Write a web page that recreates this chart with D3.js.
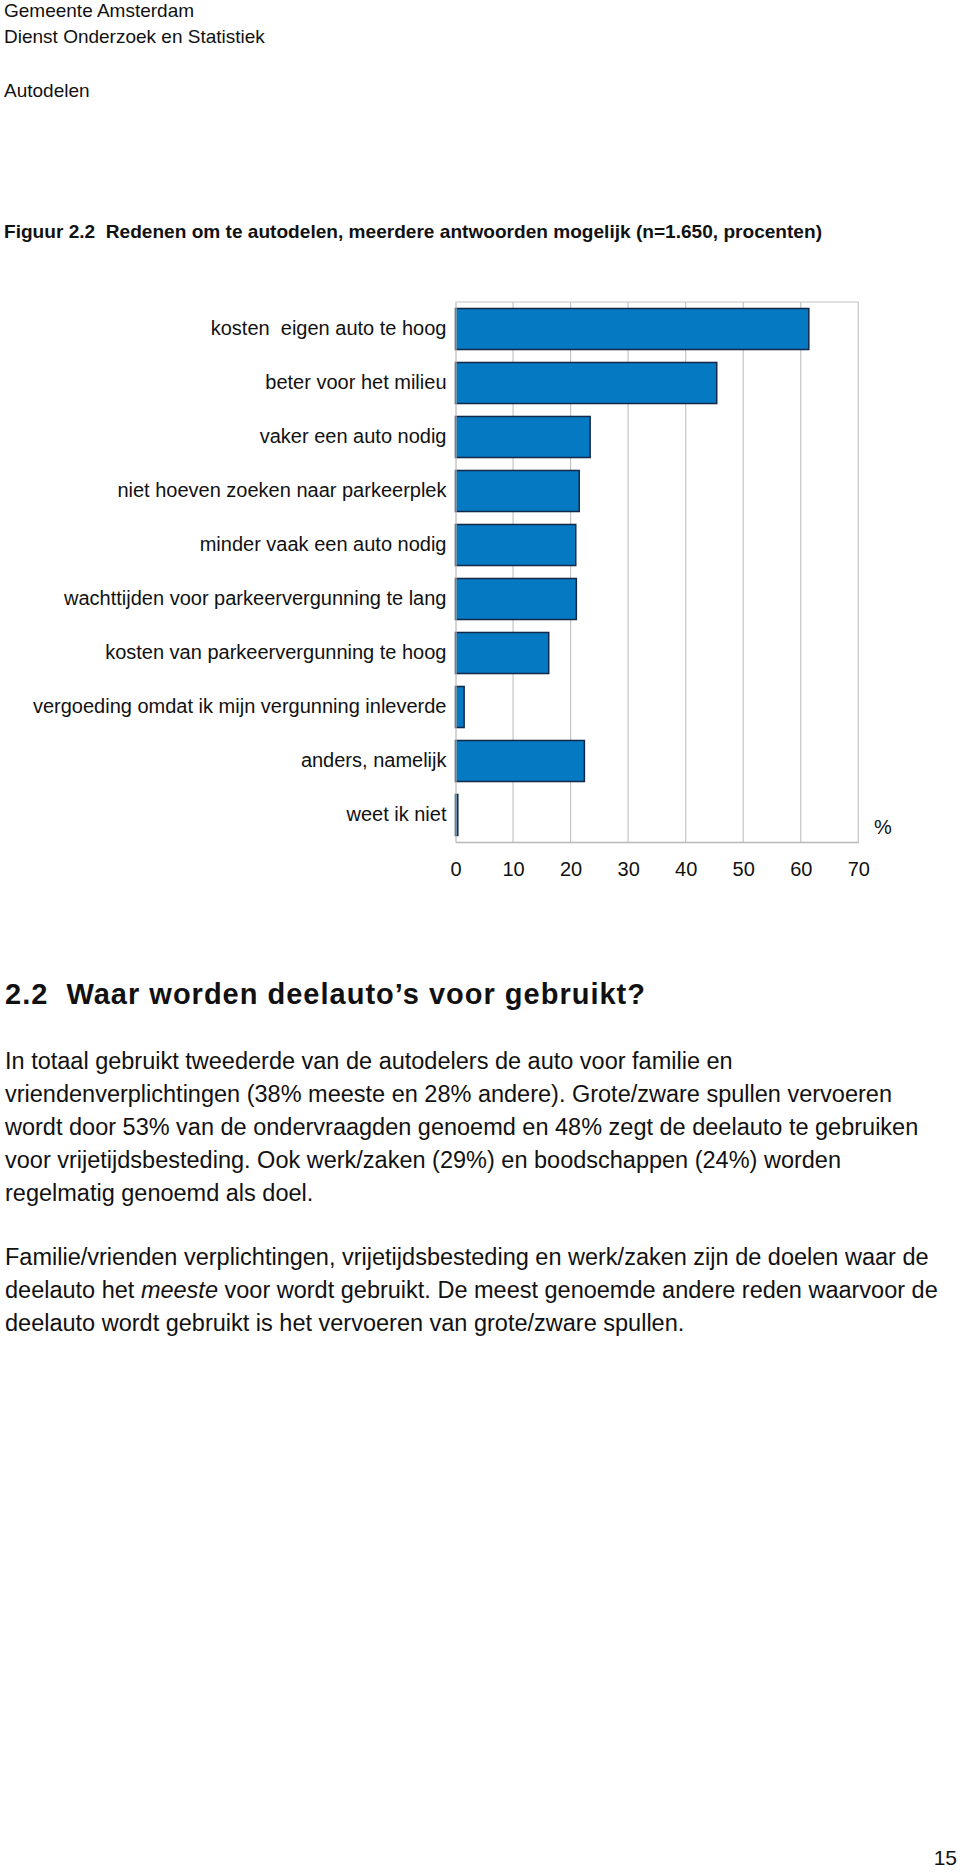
<!DOCTYPE html>
<html>
<head>
<meta charset="utf-8">
<script src="https://cdn.jsdelivr.net/npm/d3@7"></script>
<style>
  html, body { margin: 0; padding: 0; background: #fff; }
  svg { display: block; font-family: "Liberation Sans", Arial, Helvetica, sans-serif; }
  svg text { white-space: pre; }
</style>
</head>
<body>
<svg id="page" width="960" height="1874"></svg>
<script>
// ---------- data ----------
const categories = [
  "kosten  eigen auto te hoog",
  "beter voor het milieu",
  "vaker een auto nodig",
  "niet hoeven zoeken naar parkeerplek",
  "minder vaak een auto nodig",
  "wachttijden voor parkeervergunning te lang",
  "kosten van parkeervergunning te hoog",
  "vergoeding omdat ik mijn vergunning inleverde",
  "anders, namelijk",
  "weet ik niet"
];
const values = [61.4, 45.4, 23.4, 21.5, 20.9, 21.0, 16.2, 1.5, 22.4, 0.4];
const tickValues = [0, 10, 20, 30, 40, 50, 60, 70];
const unitLabel = "%";

const headerLines = ["Gemeente Amsterdam", "Dienst Onderzoek en Statistiek"];
const sectionLabel = "Autodelen";
const figureTitle = "Figuur 2.2  Redenen om te autodelen, meerdere antwoorden mogelijk (n=1.650, procenten)";
const heading = "2.2  Waar worden deelauto\u2019s voor gebruikt?";
const paragraph1 = [
  [["In totaal gebruikt tweederde van de autodelers de auto voor familie en", false]],
  [["vriendenverplichtingen (38% meeste en 28% andere). Grote/zware spullen vervoeren", false]],
  [["wordt door 53% van de ondervraagden genoemd en 48% zegt de deelauto te gebruiken", false]],
  [["voor vrijetijdsbesteding. Ook werk/zaken (29%) en boodschappen (24%) worden", false]],
  [["regelmatig genoemd als doel.", false]]
];
const paragraph2 = [
  [["Familie/vrienden verplichtingen, vrijetijdsbesteding en werk/zaken zijn de doelen waar de", false]],
  [["deelauto het ", false], ["meeste", true], [" voor wordt gebruikt. De meest genoemde andere reden waarvoor de", false]],
  [["deelauto wordt gebruikt is het vervoeren van grote/zware spullen.", false]]
];
const pageNumber = "15";

// ---------- drawing ----------
const svg = d3.select("#page");

// header
svg.selectAll("text.hdr").data(headerLines).join("text")
  .attr("class", "hdr")
  .attr("x", 4).attr("y", (d, i) => 9.8 + i * 26.6).attr("dy", "0.36em")
  .attr("font-size", 19).attr("fill", "#111").text(d => d);
svg.append("text").attr("x", 4).attr("y", 90).attr("dy", "0.36em")
  .attr("font-size", 19).attr("fill", "#111").text(sectionLabel);

// figure title
svg.append("text").attr("x", 4).attr("y", 231).attr("dy", "0.36em")
  .attr("font-size", 19).attr("font-weight", "bold").attr("fill", "#111")
  .attr("textLength", 818).attr("lengthAdjust", "spacingAndGlyphs")
  .text(figureTitle);

// chart
const plot = { left: 455.5, right: 858.3, top: 302, bottom: 842 };
const x = d3.scaleLinear().domain([0, 70]).range([plot.left, plot.right]);
const y = d3.scaleBand().domain(categories).range([plot.top, plot.bottom])
  .paddingInner(0.24).paddingOuter(0.12);

const g = svg.append("g");

// gridlines
g.append("g").selectAll("line").data(tickValues.slice(1)).join("line")
  .attr("x1", d => x(d)).attr("x2", d => x(d))
  .attr("y1", plot.top).attr("y2", plot.bottom)
  .attr("stroke", "#c4c4c4").attr("stroke-width", 1.2);
// top border
g.append("line").attr("x1", plot.left).attr("x2", plot.right)
  .attr("y1", plot.top).attr("y2", plot.top)
  .attr("stroke", "#c4c4c4").attr("stroke-width", 1.2);

// bars
g.append("g").selectAll("rect").data(values).join("rect")
  .attr("x", x(0))
  .attr("y", (d, i) => y(categories[i]))
  .attr("width", d => x(d) - x(0))
  .attr("height", y.bandwidth())
  .attr("fill", "#0679c3")
  .attr("stroke", "#14294a").attr("stroke-width", 1.5);

// x axis
const xAxis = d3.axisBottom(x).tickValues(tickValues).tickSize(0).tickPadding(20)
  .tickFormat(d3.format("d"));
const xg = g.append("g").attr("transform", `translate(0,${plot.bottom})`).call(xAxis);
xg.select(".domain").attr("stroke", "#b8b8b8").attr("stroke-width", 1.5);
xg.selectAll("text").attr("font-size", 20).attr("fill", "#111")
  .attr("font-family", "\"Liberation Sans\", Arial, sans-serif");

// y axis
const yAxis = d3.axisLeft(y).tickSize(0).tickPadding(9);
const yg = g.append("g").attr("transform", `translate(${plot.left},0)`).call(yAxis);
yg.select(".domain").attr("stroke", "#b8b8b8").attr("stroke-width", 1.2);
yg.selectAll("text").attr("font-size", 20).attr("fill", "#111")
  .attr("font-family", "\"Liberation Sans\", Arial, sans-serif");

// unit label
g.append("text").attr("x", 883).attr("y", 827).attr("dy", "0.36em")
  .attr("text-anchor", "middle").attr("font-size", 20).attr("fill", "#111")
  .text(unitLabel);

// section heading
svg.append("text").attr("x", 5).attr("y", 994).attr("dy", "0.36em")
  .attr("font-size", 29).attr("font-weight", "bold").attr("fill", "#111")
  .attr("textLength", 640).attr("lengthAdjust", "spacing")
  .text(heading);

// paragraphs
function para(lines, startY) {
  lines.forEach((segs, i) => {
    const t = svg.append("text").attr("x", 5).attr("y", startY + i * 32.9)
      .attr("dy", "0.36em").attr("font-size", 23.5).attr("fill", "#111");
    segs.forEach(([s, it]) => {
      t.append("tspan").attr("font-style", it ? "italic" : "normal").text(s);
    });
  });
}
para(paragraph1, 1060.5);
para(paragraph2, 1256.5);

// page number
svg.append("text").attr("x", 957).attr("y", 1857).attr("dy", "0.36em")
  .attr("text-anchor", "end").attr("font-size", 21).attr("fill", "#111")
  .text(pageNumber);
</script>
</body>
</html>
